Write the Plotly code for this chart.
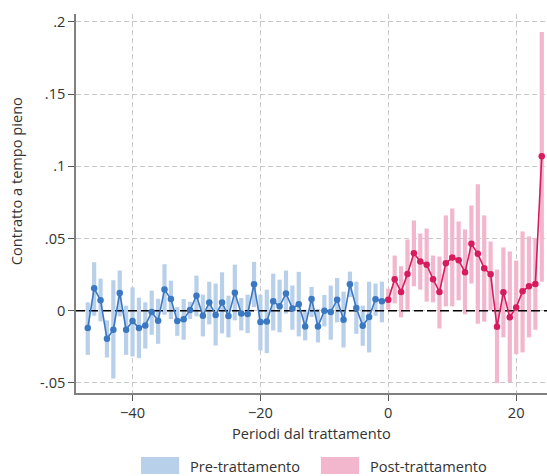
import plotly.graph_objects as go

# Event-study estimates: coefficient and 95% confidence bounds per period
pre_periods = list(range(-47, 0))
pre_est = [-0.0120, 0.0155, 0.0072, -0.0194, -0.0132, 0.0123, -0.0132, -0.0072,
           -0.0120, -0.0102, -0.0009, -0.0069, 0.0146, 0.0081, -0.0072, -0.0060,
           0.0005, 0.0104, -0.0035, 0.0056, -0.0030, 0.0056, -0.0037, 0.0125,
           -0.0019, -0.0023, 0.0183, -0.0079, -0.0074, 0.0065, 0.0030, 0.0120,
           0.0016, 0.0044, -0.0109, 0.0081, -0.0109, 0.0000, -0.0009, 0.0076,
           -0.0063, 0.0183, 0.0019, -0.0104, -0.0044, 0.0079, 0.0065]
pre_hi = [0.0058, 0.0336, 0.0222, -0.0067, 0.0211, 0.0278, 0.0035, 0.0162,
          0.0090, 0.0058, 0.0139, 0.0083, 0.0322, 0.0208, 0.0025, 0.0081,
          0.0062, 0.0243, 0.0111, 0.0201, 0.0188, 0.0266, 0.0104, 0.0319,
          0.0088, 0.0111, 0.0338, 0.0111, 0.0146, 0.0257, 0.0215, 0.0278,
          0.0174, 0.0269, 0.0007, 0.0164, 0.0012, 0.0109, 0.0174, 0.0227,
          0.0132, 0.0271, 0.0201, 0.0035, 0.0201, 0.0188, 0.0201]
pre_lo = [-0.0306, -0.0035, -0.0074, -0.0324, -0.0470, -0.0039, -0.0306, -0.0317,
          -0.0329, -0.0262, -0.0167, -0.0229, -0.0028, -0.0058, -0.0174, -0.0201,
          -0.0058, -0.0039, -0.0178, -0.0095, -0.0241, -0.0157, -0.0185, -0.0067,
          -0.0137, -0.0155, 0.0025, -0.0275, -0.0294, -0.0137, -0.0150, -0.0020,
          -0.0132, -0.0178, -0.0206, -0.0044, -0.0220, -0.0109, -0.0201, -0.0081,
          -0.0255, 0.0095, -0.0160, -0.0243, -0.0289, -0.0035, -0.0081]

post_periods = list(range(0, 25))
post_est = [0.0076, 0.0218, 0.0130, 0.0255, 0.0398, 0.0340, 0.0319, 0.0218,
            0.0130, 0.0329, 0.0368, 0.0350, 0.0266, 0.0463, 0.0394, 0.0294,
            0.0252, -0.0111, 0.0127, -0.0046, 0.0023, 0.0134, 0.0169, 0.0185,
            0.1069]
post_hi = [0.0153, 0.0382, 0.0308, 0.0493, 0.0625, 0.0535, 0.0569, 0.0382,
           0.0375, 0.0660, 0.0708, 0.0618, 0.0563, 0.0729, 0.0875, 0.0660,
           0.0479, 0.0285, 0.0438, 0.0410, 0.0347, 0.0549, 0.0514, 0.0500,
           0.1930]
post_lo = [0.0007, 0.0051, -0.0046, 0.0007, 0.0169, 0.0146, 0.0063, 0.0058,
           -0.0123, 0.0030, 0.0030, 0.0072, -0.0025, 0.0188, -0.0090, -0.0076,
           0.0000, -0.0502, -0.0185, -0.0495, -0.0301, -0.0289, -0.0185, -0.0132,
           0.0201]

x_ticks = [-40, -20, 0, 20]
y_ticks = [0.2, 0.15, 0.1, 0.05, 0.0, -0.05]
y_tick_labels = [".2", ".15", ".1", ".05", "0", "-.05"]

X_RANGE = [-48.84, 24.82]
Y_RANGE = [-0.0570, 0.2055]

BLUE_CI = "#b9d0ea"
BLUE_LINE = "#3b78c2"
PINK_CI = "#f2b7cc"
RED_LINE = "#d81b5f"
FONT = "Open Sans"
FS = 14.6
TEXT = "#333333"

fig = go.Figure()

# Confidence intervals as floating bars
fig.add_trace(go.Bar(
    x=pre_periods, base=pre_lo, y=[h - l for h, l in zip(pre_hi, pre_lo)],
    width=0.66, marker=dict(color=BLUE_CI, line=dict(width=0)),
    showlegend=False, hoverinfo="skip"))
fig.add_trace(go.Bar(
    x=post_periods, base=post_lo, y=[h - l for h, l in zip(post_hi, post_lo)],
    width=0.66, marker=dict(color=PINK_CI, line=dict(width=0)),
    showlegend=False, hoverinfo="skip"))

# Dashed reference line at zero
fig.add_trace(go.Scatter(
    x=X_RANGE, y=[0, 0], mode="lines",
    line=dict(color="black", width=1.6, dash="9px,4px"),
    showlegend=False, hoverinfo="skip"))

# Point estimates
fig.add_trace(go.Scatter(
    x=pre_periods, y=pre_est, mode="lines+markers",
    line=dict(color=BLUE_LINE, width=1.6),
    marker=dict(color=BLUE_LINE, size=6.5),
    showlegend=False))
fig.add_trace(go.Scatter(
    x=post_periods, y=post_est, mode="lines+markers",
    line=dict(color=RED_LINE, width=1.6),
    marker=dict(color=RED_LINE, size=6.5),
    showlegend=False))

grid = dict(showgrid=True, gridcolor="#c8c8c8", gridwidth=1, griddash="5px,3px")

fig.update_xaxes(
    range=X_RANGE, tickvals=x_ticks, ticks="outside", ticklen=6,
    tickcolor="#555555", showline=True, linecolor="#808080", linewidth=1.5,
    zeroline=False, tickfont=dict(family=FONT, size=FS, color=TEXT), **grid)
fig.update_yaxes(
    range=Y_RANGE, tickvals=y_ticks, ticktext=y_tick_labels, ticks="outside",
    ticklen=6, tickcolor="#555555", showline=True, linecolor="#808080",
    linewidth=1.5, zeroline=False,
    tickfont=dict(family=FONT, size=FS, color=TEXT), **grid)

annotations = [
    dict(text="Periodi dal trattamento", x=0.499, y=-0.1055, xref="paper",
         yref="paper", showarrow=False, xanchor="center", yanchor="middle",
         font=dict(family=FONT, size=FS, color=TEXT)),
    dict(text="Contratto a tempo pieno", x=-0.1274, y=0.559, xref="paper",
         yref="paper", showarrow=False, textangle=-90, xanchor="center",
         yanchor="middle", font=dict(family=FONT, size=FS, color=TEXT)),
    dict(text="Pre-trattamento", x=0.2378, y=-0.1913, xref="paper",
         yref="paper", showarrow=False, xanchor="left", yanchor="middle",
         font=dict(family=FONT, size=FS, color=TEXT)),
    dict(text="Post-trattamento", x=0.620, y=-0.1913, xref="paper",
         yref="paper", showarrow=False, xanchor="left", yanchor="middle",
         font=dict(family=FONT, size=FS, color=TEXT)),
]

# Legend swatches
shapes = [
    dict(type="rect", xref="paper", yref="paper", x0=0.138, x1=0.219,
         y0=-0.2137, y1=-0.169, fillcolor=BLUE_CI, line=dict(width=0)),
    dict(type="rect", xref="paper", yref="paper", x0=0.520, x1=0.601,
         y0=-0.2137, y1=-0.169, fillcolor=PINK_CI, line=dict(width=0)),
]

fig.update_layout(
    width=547, height=476,
    margin=dict(l=76, r=0, t=14, b=83),
    plot_bgcolor="white", paper_bgcolor="white",
    barmode="overlay", showlegend=False,
    annotations=annotations, shapes=shapes,
    font=dict(family=FONT, size=FS, color=TEXT),
)

fig.write_html("out.html")
